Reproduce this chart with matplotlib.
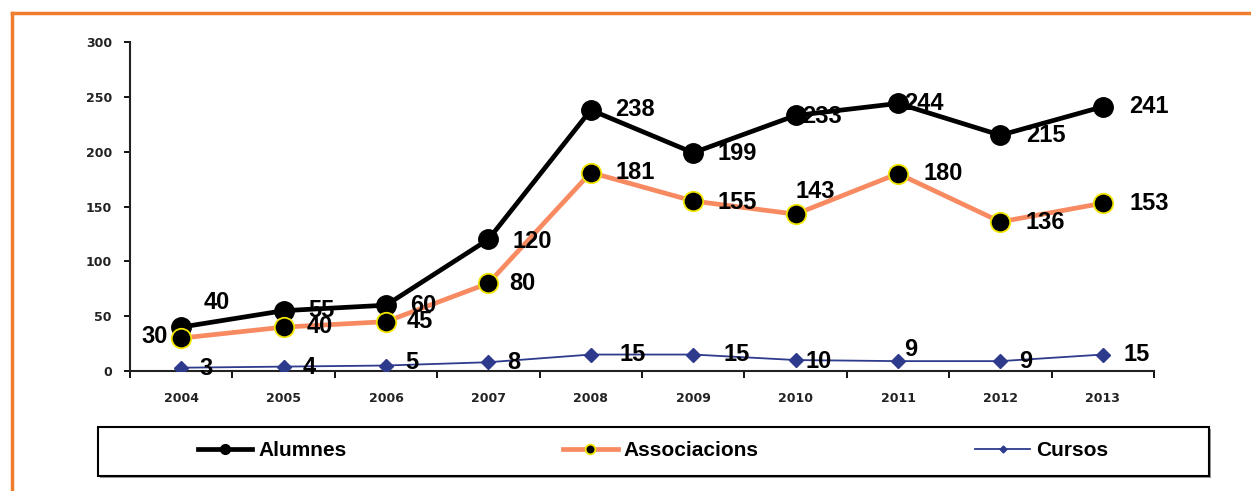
import matplotlib.pyplot as plt
from matplotlib.lines import Line2D
from matplotlib.patches import Rectangle

years = ['2004', '2005', '2006', '2007', '2008', '2009', '2010', '2011', '2012', '2013']
alumnes = [40, 55, 60, 120, 238, 199, 233, 244, 215, 241]
associacions = [30, 40, 45, 80, 181, 155, 143, 180, 136, 153]
cursos = [3, 4, 5, 8, 15, 15, 10, 9, 9, 15]

# label offsets in pixels (dx, dy) from each point
off_alumnes = [(36, 25), (38, 0), (37, 0), (44, -2), (44, 0), (44, -1), (26, -1), (26, 0), (45, 0), (46, 0)]
off_assoc = [(-27, 2), (36, 1), (34, 0), (34, 0), (44, 0), (44, -1), (20, 23), (45, 0), (45, -1), (46, 0)]
off_cursos = [(25, -1), (26, -1), (26, 3), (25, 0), (42, 0), (43, 0), (23, -1), (13, 12), (25, 0), (34, 0)]

W, H = 1251, 491
fig = plt.figure(figsize=(W / 100, H / 100), dpi=100)

# orange frame (top and left edges)
orange = '#F07C2E'
fig.add_artist(Line2D([12 / W, 1.0], [1 - 13 / H, 1 - 13 / H], color=orange, lw=2.5, transform=fig.transFigure))
fig.add_artist(Line2D([12 / W, 12 / W], [0.0, 1 - 13 / H], color=orange, lw=2.5, transform=fig.transFigure))

ax = fig.add_axes([130 / W, 1 - 371 / H, (1154 - 130) / W, (371 - 42) / H])
x = list(range(len(years)))

ax.plot(x, alumnes, color='black', lw=3.4, marker='o', ms=14, mfc='black', mec='black',
        label='Alumnes', zorder=3)
ax.plot(x, associacions, color='#F88A62', lw=3.4, marker='o', ms=14, mfc='black', mec='#F2E600',
        mew=1.3, label='Associacions', zorder=4)
ax.plot(x, cursos, color='#2E3A8C', lw=1.3, marker='D', ms=7, mfc='#2E3A8C', mec='#2E3A8C',
        label='Cursos', zorder=3)

lab_font = dict(fontsize=17, fontweight='bold', family='Liberation Sans', color='black',
                ha='center', va='center', zorder=6)
for series, offs in [(alumnes, off_alumnes), (associacions, off_assoc), (cursos, off_cursos)]:
    for xi, v, (dx, dy) in zip(x, series, offs):
        ax.annotate(str(v), (xi, v), xytext=(dx, dy), textcoords='offset pixels', **lab_font)

ax.set_xlim(-0.5, 9.5)
ax.set_ylim(0, 300)
ax.set_yticks(range(0, 301, 50))
ax.set_xticks(x)
ax.set_xticklabels(years)
ax.set_xticks([i - 0.5 for i in range(len(years) + 1)], minor=True)

for s in ['top', 'right']:
    ax.spines[s].set_visible(False)
for s in ['left', 'bottom']:
    ax.spines[s].set_linewidth(1.5)
    ax.spines[s].set_color('#222222')

ax.tick_params(axis='y', direction='out', length=4, width=1.3, pad=9, labelsize=9)
ax.tick_params(axis='x', which='major', length=0, pad=15, labelsize=9)
ax.tick_params(axis='x', which='minor', direction='out', length=5, width=1.3)
for lbl in ax.get_xticklabels() + ax.get_yticklabels():
    lbl.set_fontweight('bold')
    lbl.set_color('#222222')

# legend box
fig.add_artist(Rectangle((100 / W, 1 - 478 / H), 1111 / W, 49 / H, transform=fig.transFigure,
                         facecolor='#999999', edgecolor='none', zorder=1))
fig.add_artist(Rectangle((98 / W, 1 - 476 / H), 1111 / W, 49 / H, transform=fig.transFigure,
                         facecolor='white', edgecolor='black', lw=1.5, zorder=2))
leg = fig.legend(loc='center', bbox_to_anchor=(653 / W, 1 - 451 / H), ncol=3, frameon=False,
                 columnspacing=10.4, handlelength=2.6, handletextpad=0.3, markerscale=0.5,
                 prop=dict(family='Liberation Sans', weight='bold', size=15))
leg.set_zorder(3)

fig.savefig('out.png', dpi=100)
